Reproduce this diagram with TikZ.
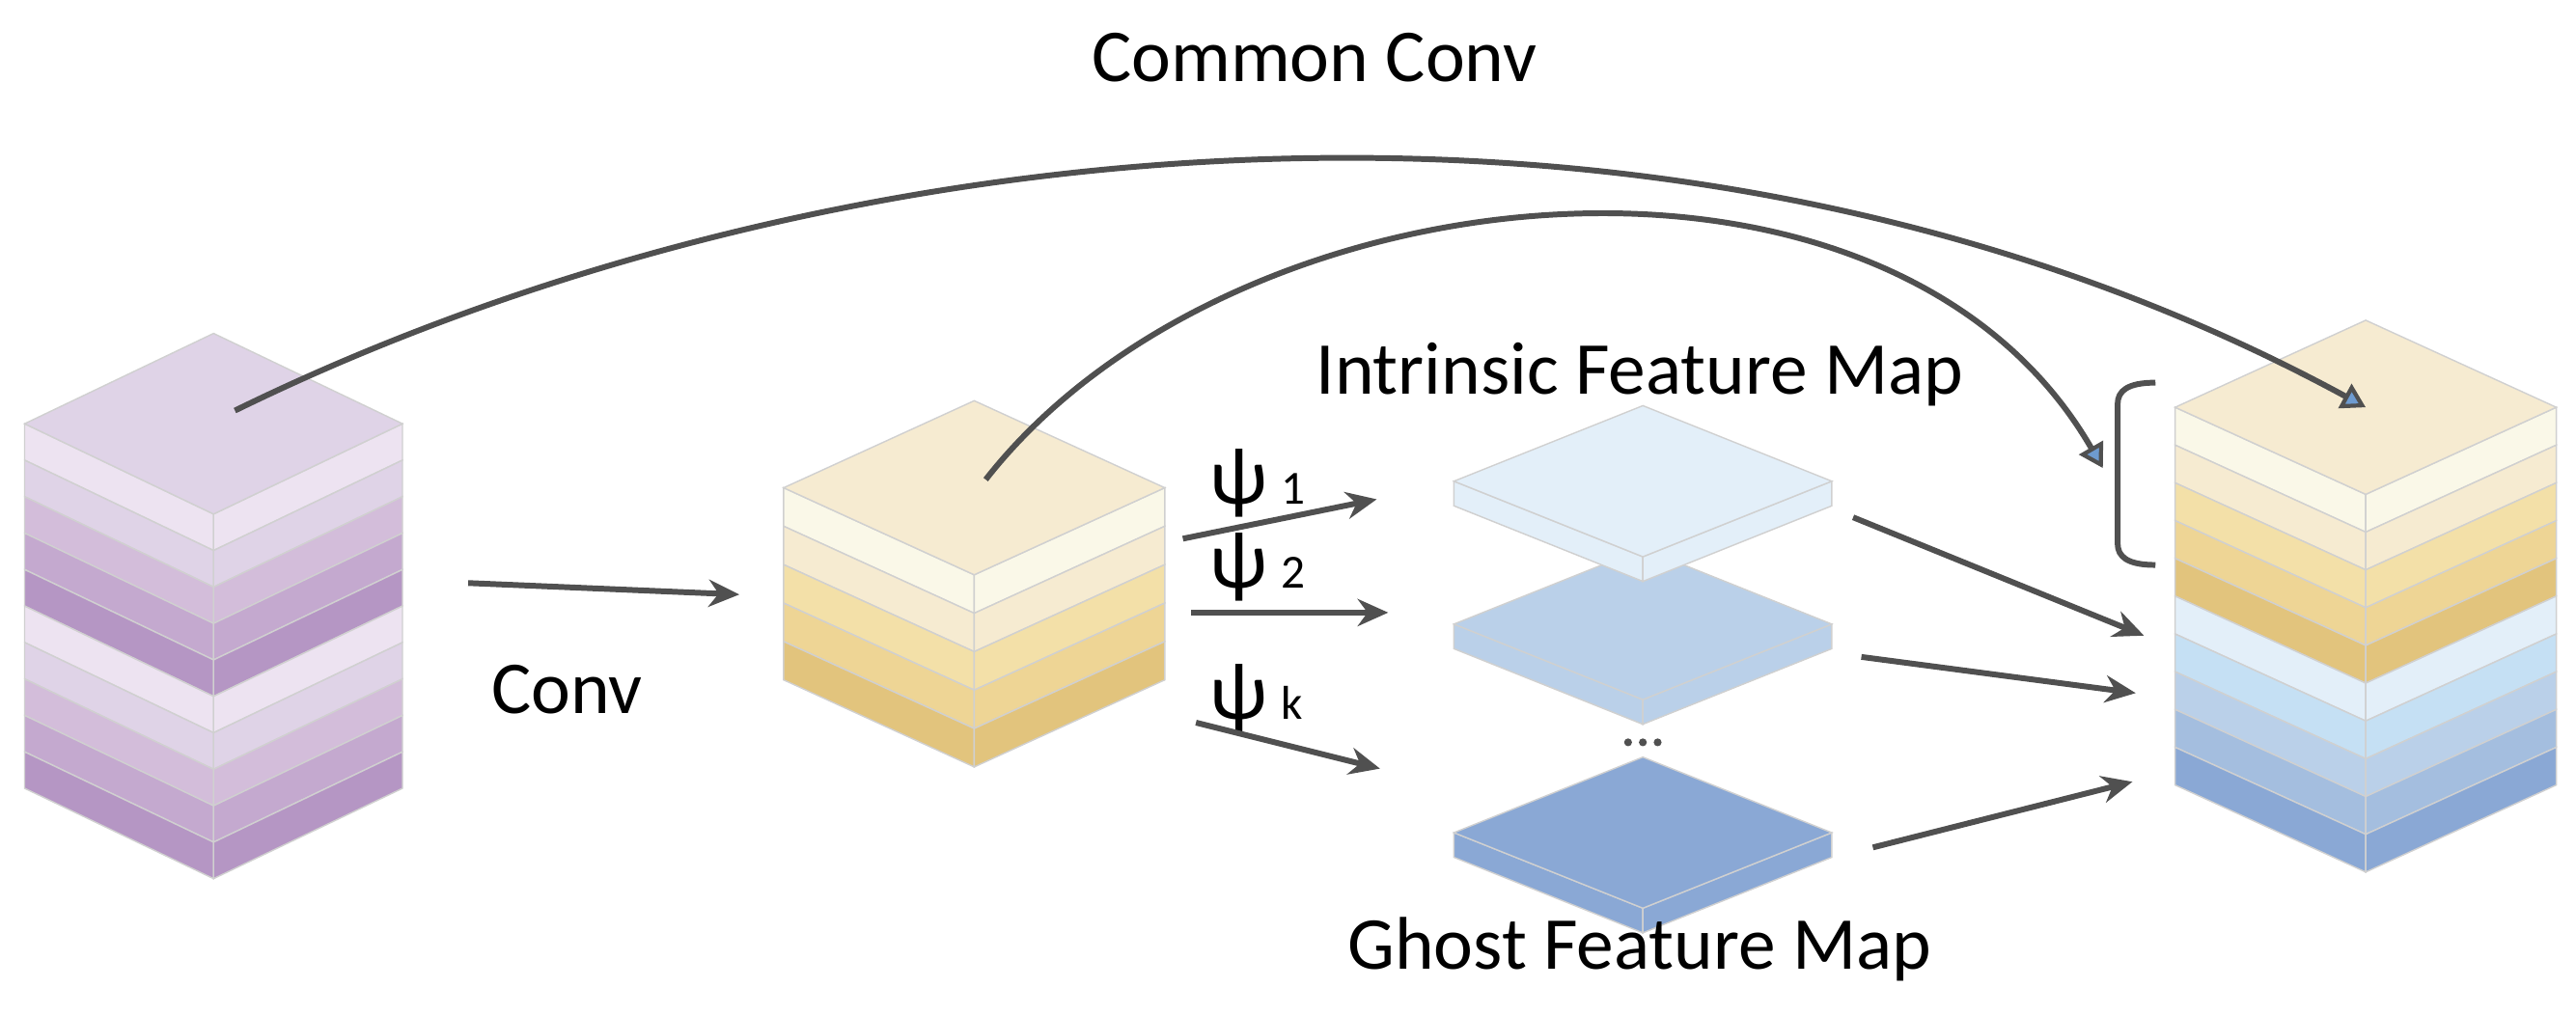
\documentclass[tikz,border=0pt]{standalone}
\usepackage{fontspec}
\setmainfont{Carlito}
\usetikzlibrary{arrows.meta}
\definecolor{edge}{HTML}{D0D0D0}
\definecolor{ln}{HTML}{505050}
\definecolor{p0}{HTML}{DFD3E7}
\definecolor{p1}{HTML}{EDE3F1}
\definecolor{p2}{HTML}{DFD3E7}
\definecolor{p3}{HTML}{D3BDDA}
\definecolor{p4}{HTML}{C4A9CF}
\definecolor{p5}{HTML}{B596C4}
\definecolor{y0}{HTML}{F6EBD1}
\definecolor{y1}{HTML}{FAF8E8}
\definecolor{y2}{HTML}{F6EBD1}
\definecolor{y3}{HTML}{F3E0A8}
\definecolor{y4}{HTML}{EED595}
\definecolor{y5}{HTML}{E2C47D}
\definecolor{b1}{HTML}{E3EFF9}
\definecolor{b2}{HTML}{C5E0F4}
\definecolor{b3}{HTML}{BAD0E9}
\definecolor{b4}{HTML}{A4BEDF}
\definecolor{b5}{HTML}{8AA8D5}
\definecolor{tipb}{HTML}{6E9BD0}
\newcommand\mystack[6]{%
 \foreach \c [count=\i from 0] in {#6}{%
  \pgfmathsetmacro\yt{#2+\i*#5}%
  \filldraw[fill=\c,draw=edge,line width=0.4pt] (#1-#3,\yt) -- (#1,\yt+#4) -- (#1,\yt+#4+#5) -- (#1-#3,\yt+#5) -- cycle;
  \filldraw[fill=\c,draw=edge,line width=0.4pt] (#1+#3,\yt) -- (#1,\yt+#4) -- (#1,\yt+#4+#5) -- (#1+#3,\yt+#5) -- cycle;
 }}
\newcommand\mytop[5]{%
 \filldraw[fill=#5,draw=edge,line width=0.4pt] (#1-#3,#2) -- (#1,#2-#4) -- (#1+#3,#2) -- (#1,#2+#4) -- cycle;}
\tikzset{
 conn/.style={draw=ln,line width=1.7pt,-{Stealth[length=9pt,width=8pt]}},
 curv/.style={draw=ln,line width=1.7pt,-{Triangle[length=7pt,width=8pt,fill=tipb,line width=1.2pt]}},
 lbl/.style={font=\fontsize{22}{26}\selectfont,inner sep=0pt},
 psi/.style={font=\fontsize{24}{26}\selectfont,inner sep=0pt,anchor=base west}
}
\begin{document}
\begin{tikzpicture}[x=0.01702cm,y=-0.01702cm]
\useasboundingbox (0,0) rectangle (1568,618);
% left stack
\mystack{130}{258}{115}{55}{22.2}{p1,p2,p3,p4,p5,p1,p2,p3,p4,p5}
\mytop{130}{258}{115}{55}{p0}
% middle stack
\mystack{593}{297}{116}{53}{23.4}{y1,y2,y3,y4,y5}
\mytop{593}{297}{116}{53}{y0}
% right stack
\mystack{1440}{248}{116}{53}{23}{y1,y2,y3,y4,y5,b1,b2,b3,b4,b5}
\mytop{1440}{248}{116}{53}{y0}
% feature maps
\mystack{1000}{507}{115}{46}{15}{b5}
\mytop{1000}{507}{115}{46}{b5}
\mystack{1000}{380}{115}{46}{15}{b3}
\mytop{1000}{380}{115}{46}{b3}
\mystack{1000}{293}{115}{46}{15}{b1}
\mytop{1000}{293}{115}{46}{b1}
\foreach \dx in {-9,0,9} \fill[ln] (1000+\dx,452) circle (2.4);
% texts
\node[lbl] (tcc) at (800,35) {Common Conv};
\node[lbl] (tif) at (998,228) {Intrinsic Feature Map};
\node[lbl] (tgf) at (998,578) {Ghost Feature Map};
\node[lbl] (tconv) at (345,420) {Conv};
\node[psi] (p1) at (736,307) {ψ\,{\fontsize{14}{15}\selectfont 1}};
\node[psi] (p2) at (736,358) {ψ\,{\fontsize{14}{15}\selectfont 2}};
\node[psi] (pk) at (736,438) {ψ\,{\fontsize{14}{15}\selectfont k}};
% coordinates
\coordinate (c0) at (285,355); \coordinate (c1) at (450,362);
\coordinate (a1s) at (720,328); \coordinate (a1e) at (838,304);
\coordinate (a2s) at (725,373); \coordinate (a2e) at (845,373);
\coordinate (aks) at (728,440); \coordinate (ake) at (840,468);
\coordinate (m1s) at (1128,315); \coordinate (m1e) at (1305,387);
\coordinate (m2s) at (1133,400); \coordinate (m2e) at (1300,422);
\coordinate (m3s) at (1140,516); \coordinate (m3e) at (1298,476);
\coordinate (ccs) at (143,250); \coordinate (cce) at (1440,248);
\coordinate (ics) at (600,292); \coordinate (ice) at (1280,285);
\draw[conn] (c0) -- (c1);
\draw[conn] (a1s) -- (a1e);
\draw[conn] (a2s) -- (a2e);
\draw[conn] (aks) -- (ake);
\draw[conn] (m1s) -- (m1e);
\draw[conn] (m2s) -- (m2e);
\draw[conn] (m3s) -- (m3e);
\draw[curv] (ccs) .. controls (500,75) and (1020,20) .. (cce);
\draw[curv] (ics) .. controls (750,100) and (1150,60) .. (ice);
% bracket
\draw[ln,line width=1.7pt] (1312,233) .. controls (1295,233) and (1289,238) .. (1289,246) -- (1289,331) .. controls (1289,339) and (1295,344) .. (1312,344);
\end{tikzpicture}
\end{document}
